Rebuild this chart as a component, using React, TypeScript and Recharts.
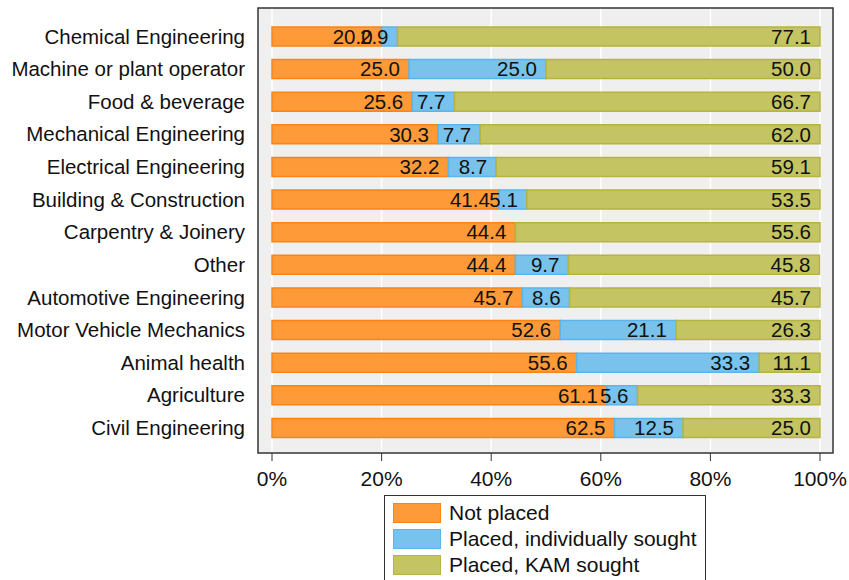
import React from "react";
import {
  BarChart,
  Bar,
  XAxis,
  YAxis,
  CartesianGrid,
  Legend,
  LabelList,
  usePlotArea,
} from "recharts";

const categories = [
  "Chemical Engineering",
  "Machine or plant operator",
  "Food & beverage",
  "Mechanical Engineering",
  "Electrical Engineering",
  "Building & Construction",
  "Carpentry & Joinery",
  "Other",
  "Automotive Engineering",
  "Motor Vehicle Mechanics",
  "Animal health",
  "Agriculture",
  "Civil Engineering",
];

const notPlaced = [20.0, 25.0, 25.6, 30.3, 32.2, 41.4, 44.4, 44.4, 45.7, 52.6, 55.6, 61.1, 62.5];
const individuallySought = [2.9, 25.0, 7.7, 7.7, 8.7, 5.1, 0, 9.7, 8.6, 21.1, 33.3, 5.6, 12.5];
const kamSought = [77.1, 50.0, 66.7, 62.0, 59.1, 53.5, 55.6, 45.8, 45.7, 26.3, 11.1, 33.3, 25.0];

const xTicks = [0, 20, 40, 60, 80, 100];

const series = [
  { key: "notPlaced", name: "Not placed", fill: "#fe9a38", stroke: "#fd8414" },
  { key: "individually", name: "Placed, individually sought", fill: "#78c2ec", stroke: "#5ab5ea" },
  { key: "kam", name: "Placed, KAM sought", fill: "#c4c462", stroke: "#b4b43e" },
];

const data = categories.map((name, i) => ({
  name,
  notPlaced: notPlaced[i],
  individually: individuallySought[i],
  kam: kamSought[i],
}));

const fmt = (v: any) => (v > 0 ? Number(v).toFixed(1) : "");

// border round the plot region
const Frame = () => {
  const area = usePlotArea();
  if (!area) return null;
  return (
    <rect
      x={area.x}
      y={area.y}
      width={area.width}
      height={area.height}
      fill="none"
      stroke="#333"
      strokeWidth={1.5}
    />
  );
};

const LegendBox = () => (
  <div
    style={{
      border: "1px solid #333",
      background: "#fff",
      boxSizing: "border-box",
      width: 322,
      height: 87,
      padding: "4px 0 0 8px",
      fontSize: 21,
      color: "#111",
    }}
  >
    {series.map((s) => (
      <div key={s.key} style={{ display: "flex", alignItems: "center", height: 26 }}>
        <div
          style={{
            width: 48,
            height: 20,
            boxSizing: "border-box",
            background: s.fill,
            border: `1.5px solid ${s.stroke}`,
            marginRight: 8,
          }}
        />
        <span>{s.name}</span>
      </div>
    ))}
  </div>
);

const App = () => {
  return (
    <div style={{ position: "absolute", left: 0, top: 0, fontFamily: "'Liberation Sans', Arial, sans-serif" }}>
      <BarChart
        width={849}
        height={580}
        data={data}
        layout="vertical"
        barSize={19}
        margin={{ top: 8, right: 16, left: 0, bottom: 0 }}
      >
        <CartesianGrid horizontal={false} stroke="#fff" strokeWidth={1.5} fill="#efefef" />
        <XAxis
          type="number"
          domain={[0, 100]}
          ticks={xTicks}
          tickFormatter={(v) => `${v}%`}
          padding={{ left: 14, right: 13 }}
          axisLine={false}
          tickSize={8}
          tickMargin={10}
          height={40}
          tick={{ fontSize: 21, fill: "#111" }}
          tickLine={{ stroke: "#333" }}
        />
        <YAxis
          type="category"
          dataKey="name"
          width={258}
          axisLine={false}
          tickLine={false}
          tickMargin={7}
          padding={{ top: 12, bottom: 9 }}
          interval={0}
          tick={{ fontSize: 20.5, fill: "#111" }}
        />
        {series.map((s) => (
          <Bar
            key={s.key}
            dataKey={s.key}
            name={s.name}
            stackId="a"
            fill={s.fill}
            stroke={s.stroke}
            strokeWidth={1.5}
            isAnimationActive={false}
          >
            <LabelList dataKey={s.key} position="insideRight" offset={9} formatter={fmt} fill="#111" fontSize={20.5} />
          </Bar>
        ))}
        <Legend
          verticalAlign="bottom"
          content={<LegendBox />}
          wrapperStyle={{ left: 384, top: 495, width: 322, height: 87 }}
        />
        <Frame />
      </BarChart>
    </div>
  );
};

export default App;
